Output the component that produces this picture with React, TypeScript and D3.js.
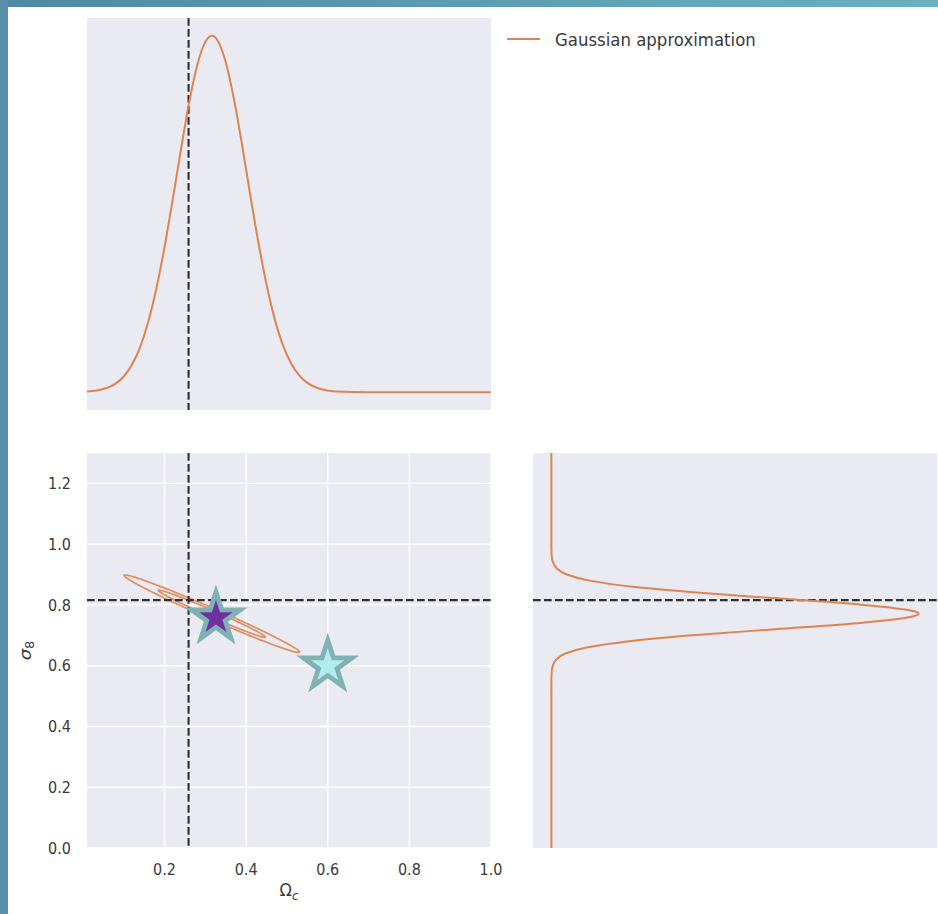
import React, { useEffect } from 'react';
import * as d3 from 'd3';

// ---------- data ----------
const omegaGrid = [0.01, 0.05, 0.08, 0.10, 0.12, 0.14, 0.16, 0.18, 0.20, 0.22, 0.24, 0.26, 0.28, 0.30, 0.316, 0.33, 0.35, 0.37, 0.39, 0.41, 0.43, 0.45, 0.47, 0.49, 0.51, 0.53, 0.55, 0.58, 0.62, 0.70, 0.85, 1.0];
const omegaDensity = [0.002, 0.009, 0.024, 0.044, 0.077, 0.126, 0.197, 0.291, 0.407, 0.540, 0.679, 0.811, 0.917, 0.983, 1.0, 0.987, 0.926, 0.823, 0.694, 0.554, 0.420, 0.302, 0.205, 0.132, 0.081, 0.047, 0.026, 0.0095, 0.002, 0.0, 0.0, 0.0];

const sigmaGrid = [0.0, 0.30, 0.50, 0.55, 0.58, 0.60, 0.62, 0.64, 0.66, 0.68, 0.70, 0.72, 0.74, 0.76, 0.771, 0.78, 0.80, 0.82, 0.84, 0.86, 0.88, 0.90, 0.92, 0.94, 0.96, 0.99, 1.10, 1.3];
const sigmaDensity = [0.0, 0.0, 0.0, 0.0001, 0.001, 0.004, 0.013, 0.038, 0.096, 0.207, 0.384, 0.610, 0.833, 0.977, 1.0, 0.985, 0.852, 0.634, 0.405, 0.222, 0.104, 0.042, 0.015, 0.0044, 0.0011, 0.0001, 0.0, 0.0];

const gaussMean = [0.316, 0.771];
const gaussStd = [0.0865, 0.0513];
const gaussRho = -0.988;
const contourLevels = [2.30, 6.18];

const fiducialOmega = 0.2589;
const fiducialSigma8 = 0.8159;

const starOmega = [0.326, 0.6];
const starSigma8 = [0.758, 0.6];

const xTicks = [0.2, 0.4, 0.6, 0.8, 1.0];
const yTicks = [0.0, 0.2, 0.4, 0.6, 0.8, 1.0, 1.2];
const legendLabel = 'Gaussian approximation';

// ---------- styles ----------
const ORANGE = '#dd8452';
const PANEL_BG = '#eaeaf2';
const DASH = '#2e2e34';
const STAR_EDGE = '#80b1b3';
const STAR_FILLS = ['#7030a0', '#b3ecf0'];
const TEXT = '#3a3a3a';
const FONT = 'DejaVu Sans, sans-serif';
const SQ = 0.9; // horizontal squash of text in the reference

const W = 938, H = 914;
const TOP = { x0: 87, x1: 491, y0: 18, y1: 410 };
const BL = { x0: 87, x1: 491, y0: 453, y1: 848 };
const BR = { x0: 533, x1: 937, y0: 453, y1: 848 };

function starPath(cx: number, cy: number, R: number) {
  const r = R * 0.381966;
  const pts: [number, number][] = [];
  for (let i = 0; i < 10; i++) {
    const a = -Math.PI / 2 + (i * Math.PI) / 5;
    const rr = i % 2 === 0 ? R : r;
    pts.push([cx + rr * Math.cos(a), cy + rr * Math.sin(a)]);
  }
  return 'M' + pts.map(p => p[0].toFixed(2) + ',' + p[1].toFixed(2)).join('L') + 'Z';
}

export default function App() {
  useEffect(() => {
    document.body.style.margin = '0';
  }, []);

  const xOm = d3.scaleLinear().domain([0.01, 1.0]).range([BL.x0, BL.x1]);
  const ySig = d3.scaleLinear().domain([0, 1.3]).range([BL.y1, BL.y0]);
  const yTop = d3.scaleLinear().domain([-0.05, 1.05]).range([TOP.y1, TOP.y0]);
  const xRight = d3.scaleLinear().domain([-0.05, 1.05]).range([BR.x0, BR.x1]);

  const topLine = d3.line<number>()
    .x((_, i) => xOm(omegaGrid[i]))
    .y(d => yTop(d))
    .curve(d3.curveMonotoneX)(omegaDensity) || '';

  const rightLine = d3.line<number>()
    .x(d => xRight(d))
    .y((_, i) => ySig(sigmaGrid[i]))
    .curve(d3.curveMonotoneY)(sigmaDensity) || '';

  const ellipses = contourLevels.map(lv => {
    const k = Math.sqrt(lv);
    const ts = d3.range(0, 361).map(t => (t * Math.PI) / 180);
    const pts = ts.map(t => {
      const u = Math.cos(t), v = Math.sin(t);
      const dx = k * gaussStd[0] * u;
      const dy = k * (gaussRho * gaussStd[1] * u + gaussStd[1] * Math.sqrt(1 - gaussRho * gaussRho) * v);
      return [gaussMean[0] + dx, gaussMean[1] + dy] as [number, number];
    });
    return d3.line<[number, number]>().x(p => xOm(p[0])).y(p => ySig(p[1]))(pts) || '';
  });

  const dashProps = { stroke: DASH, strokeWidth: 2.1, strokeDasharray: '7.7,3.3' };

  return (
    <svg width={W} height={H} style={{ position: 'absolute', left: 0, top: 0, display: 'block' }} fontFamily={FONT}>
      <defs>
        <linearGradient id="topband" x1="0" x2="1" y1="0" y2="0">
          <stop offset="0" stopColor="#4f88a3" />
          <stop offset="1" stopColor="#6cb0be" />
        </linearGradient>
        <clipPath id="clipTop"><rect x={TOP.x0} y={TOP.y0} width={TOP.x1 - TOP.x0} height={TOP.y1 - TOP.y0} /></clipPath>
        <clipPath id="clipBL"><rect x={BL.x0} y={BL.y0} width={BL.x1 - BL.x0} height={BL.y1 - BL.y0} /></clipPath>
        <clipPath id="clipBR"><rect x={BR.x0} y={BR.y0} width={BR.x1 - BR.x0} height={BR.y1 - BR.y0} /></clipPath>
      </defs>
      <rect x={0} y={0} width={W} height={H} fill="#ffffff" />
      <rect x={0} y={0} width={W} height={7} fill="url(#topband)" />
      <rect x={0} y={0} width={8} height={H} fill="#5a8fa8" />

      {/* top marginal */}
      <rect x={TOP.x0} y={TOP.y0} width={TOP.x1 - TOP.x0} height={TOP.y1 - TOP.y0} fill={PANEL_BG} />
      <g clipPath="url(#clipTop)">
        <line x1={xOm(fiducialOmega)} x2={xOm(fiducialOmega)} y1={TOP.y0} y2={TOP.y1} {...dashProps} />
        <path d={topLine} fill="none" stroke={ORANGE} strokeWidth={2} />
      </g>

      {/* legend */}
      <line x1={507} x2={540} y1={39} y2={39} stroke={ORANGE} strokeWidth={2} />
      <text transform={`translate(555,40) scale(${SQ},1)`} dy="0.35em" fontSize={18.4} fill={TEXT}>{legendLabel}</text>

      {/* bottom-left joint */}
      <rect x={BL.x0} y={BL.y0} width={BL.x1 - BL.x0} height={BL.y1 - BL.y0} fill={PANEL_BG} />
      <g clipPath="url(#clipBL)">
        {xTicks.map(t => (
          <line key={'gx' + t} x1={xOm(t)} x2={xOm(t)} y1={BL.y0} y2={BL.y1} stroke="#ffffff" strokeWidth={1.4} />
        ))}
        {yTicks.map(t => (
          <line key={'gy' + t} x1={BL.x0} x2={BL.x1} y1={ySig(t)} y2={ySig(t)} stroke="#ffffff" strokeWidth={1.4} />
        ))}
        {ellipses.map((d, i) => (
          <path key={'el' + i} d={d} fill="none" stroke={ORANGE} strokeWidth={1.7} strokeOpacity={0.9} />
        ))}
        <line x1={xOm(fiducialOmega)} x2={xOm(fiducialOmega)} y1={BL.y0} y2={BL.y1} {...dashProps} />
        <line x1={BL.x0} x2={BL.x1} y1={ySig(fiducialSigma8)} y2={ySig(fiducialSigma8)} {...dashProps} />
        {starOmega.map((om, i) => (
          <path key={'st' + i} d={starPath(xOm(om), ySig(starSigma8[i]), 25.5)} fill={STAR_FILLS[i]} stroke={STAR_EDGE} strokeWidth={4.8} strokeLinejoin="miter" strokeMiterlimit={4} />
        ))}
      </g>
      {xTicks.map(t => (
        <text key={'xt' + t} transform={`translate(${xOm(t)},869) scale(${SQ},1)`} dy="0.35em" textAnchor="middle" fontSize={16} fill={TEXT}>{t.toFixed(1)}</text>
      ))}
      {yTicks.map(t => (
        <text key={'yt' + t} transform={`translate(71,${ySig(t)}) scale(${SQ},1)`} dy="0.35em" textAnchor="end" fontSize={16} fill={TEXT}>{t.toFixed(1)}</text>
      ))}
      <text transform={`translate(${(BL.x0 + BL.x1) / 2},891) scale(${SQ},1)`} dy="0.3em" textAnchor="middle" fontSize={18} fill={TEXT}>
        Ω<tspan fontStyle="italic" fontSize={13} dy={4}>c</tspan>
      </text>
      <text transform={`translate(25,${(BL.y0 + BL.y1) / 2}) rotate(-90) scale(1,${SQ})`} textAnchor="middle" fontSize={18} fill={TEXT} dy="0.35em">
        <tspan fontStyle="italic">σ</tspan><tspan fontSize={13} dy={4}>8</tspan>
      </text>

      {/* bottom-right marginal */}
      <rect x={BR.x0} y={BR.y0} width={BR.x1 - BR.x0} height={BR.y1 - BR.y0} fill={PANEL_BG} />
      <g clipPath="url(#clipBR)">
        <line x1={BR.x0} x2={BR.x1} y1={ySig(fiducialSigma8)} y2={ySig(fiducialSigma8)} {...dashProps} />
        <path d={rightLine} fill="none" stroke={ORANGE} strokeWidth={2} />
      </g>
    </svg>
  );
}
